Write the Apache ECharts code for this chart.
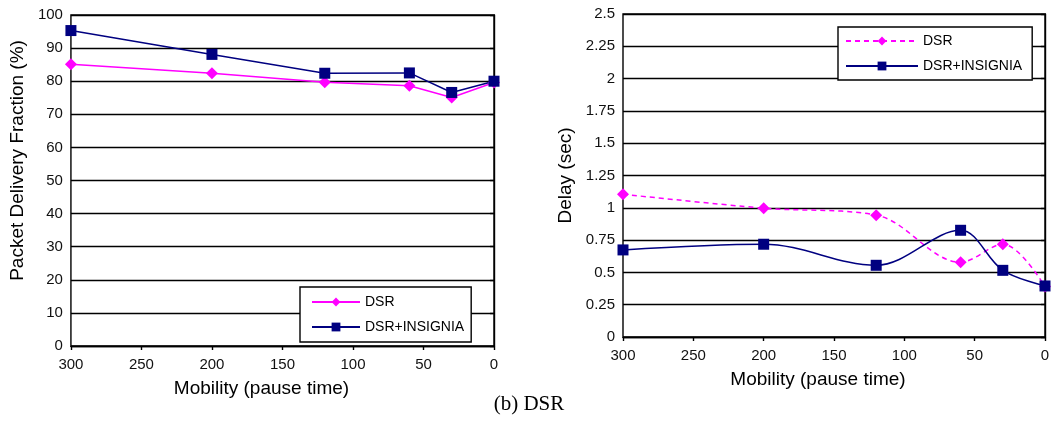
<!DOCTYPE html>
<html>
<head>
<meta charset="utf-8">
<script src="https://cdn.jsdelivr.net/npm/echarts@6/dist/echarts.min.js"></script>
<style>
  html, body { margin: 0; padding: 0; background: #fff; }
  #wrap { position: relative; width: 1062px; height: 422px; overflow: hidden; }
  #pdf, #delay { position: absolute; top: 0; width: 531px; height: 422px; }
  #pdf { left: 0; }
  #delay { left: 531px; }
  #caption {
    position: absolute; left: 429px; width: 200px; top: 391px;
    text-align: center; line-height: 24px; color: #000;
    font: 21px "Liberation Serif", "Times New Roman", serif;
  }
</style>
</head>
<body>
<div id="wrap">
  <div id="pdf"></div>
  <div id="delay"></div>
  <div id="caption">(b) DSR</div>
</div>
<script>
// Pause times (s) on the mobility axis, highest first
const pauseTimes = [300, 200, 120, 60, 30, 0];

// Packet delivery fraction (%)
const pdfDsr      = [85.1, 82.4, 79.7, 78.6, 75.1, 79.6];
const pdfInsignia = [95.3, 88.1, 82.4, 82.5, 76.6, 80.0];

// End-to-end delay (sec)
const delayDsr      = [1.105, 0.997, 0.943, 0.579, 0.718, 0.39];
const delayInsignia = [0.674, 0.718, 0.555, 0.826, 0.516, 0.395];

const seriesNames = ['DSR', 'DSR+INSIGNIA'];

const PINK = '#ff00ff';
const NAVY = '#000080';
const FONT = '"Liberation Sans", Arial, sans-serif';
const RULE = 1.4;

const pairs = (ys) => pauseTimes.map((t, i) => [t, ys[i]]);

function xAxisCfg(namePad) {
  return {
    type: 'value', min: 0, max: 300, interval: 50, inverse: true,
    name: 'Mobility (pause time)', nameLocation: 'middle', nameGap: 33,
    nameTextStyle: { fontFamily: FONT, fontSize: 19, color: '#000', padding: namePad },
    axisLine: { show: true, lineStyle: { color: '#000', width: RULE } },
    axisTick: { show: true, length: 4, lineStyle: { color: '#000', width: RULE } },
    axisLabel: { fontFamily: FONT, fontSize: 15, color: '#111', margin: 11 },
    splitLine: { show: false }
  };
}

function yAxisCfg(extra) {
  return Object.assign({
    type: 'value',
    axisLine: { show: true, lineStyle: { color: '#000', width: RULE } },
    axisTick: { show: true, length: 4, lineStyle: { color: '#000', width: RULE } },
    axisLabel: { fontFamily: FONT, fontSize: 15, color: '#111', margin: 8 },
    splitLine: { show: true, lineStyle: { color: '#000', width: RULE } },
    nameLocation: 'middle',
    nameTextStyle: { fontFamily: FONT, fontSize: 19, color: '#000' }
  }, extra);
}

function legendCfg(pos, lineWidth) {
  return Object.assign({
    orient: 'vertical',
    data: seriesNames,
    backgroundColor: '#fff',
    borderColor: '#000', borderWidth: RULE, borderRadius: 0,
    itemWidth: lineWidth, itemHeight: 11, itemGap: 11,
    selectedMode: false,
    textStyle: { fontFamily: FONT, fontSize: 14, color: '#000' }
  }, pos);
}

// Left panel: packet delivery fraction
const pdfChart = echarts.init(document.getElementById('pdf'), null, { renderer: 'canvas' });
pdfChart.setOption({
  animation: false,
  grid: { left: 69, right: 37, top: 15, bottom: 76, show: true, borderColor: '#000', borderWidth: RULE },
  xAxis: xAxisCfg([0, 42, 0, 0]),
  yAxis: yAxisCfg({
    min: 0, max: 100, interval: 10,
    name: 'Packet Delivery Fraction (%)', nameGap: 33,
    nameTextStyle: { fontFamily: FONT, fontSize: 19, color: '#000', padding: [0, 0, 0, 40] }
  }),
  legend: legendCfg({ left: 300, top: 287, padding: [8, 7, 8, 11] }, 48),
  series: [
    {
      name: seriesNames[0], type: 'line', data: pairs(pdfDsr),
      symbol: 'diamond', symbolSize: 12,
      lineStyle: { color: PINK, width: 1.5 }, itemStyle: { color: PINK }
    },
    {
      name: seriesNames[1], type: 'line', data: pairs(pdfInsignia),
      symbol: 'rect', symbolSize: 11,
      lineStyle: { color: NAVY, width: 1.5 }, itemStyle: { color: NAVY }
    }
  ]
});

// Right panel: delay
const delayChart = echarts.init(document.getElementById('delay'), null, { renderer: 'canvas' });
delayChart.setOption({
  animation: false,
  grid: { left: 92, right: 17, top: 14, bottom: 85, show: true, borderColor: '#000', borderWidth: RULE },
  xAxis: xAxisCfg([0, 32, 0, 0]),
  yAxis: yAxisCfg({
    min: 0, max: 2.5, interval: 0.25,
    name: 'Delay (sec)', nameGap: 46
  }),
  legend: legendCfg({ left: 307, top: 27, padding: [7, 10, 7, 7] }, 72),
  series: [
    {
      name: seriesNames[0], type: 'line', data: pairs(delayDsr),
      smooth: 0.35, symbol: 'diamond', symbolSize: 12,
      lineStyle: { color: PINK, width: 1.5, type: [5, 4] }, itemStyle: { color: PINK }
    },
    {
      name: seriesNames[1], type: 'line', data: pairs(delayInsignia),
      smooth: 0.35, symbol: 'rect', symbolSize: 11,
      lineStyle: { color: NAVY, width: 1.5 }, itemStyle: { color: NAVY }
    }
  ]
});
</script>
</body>
</html>
